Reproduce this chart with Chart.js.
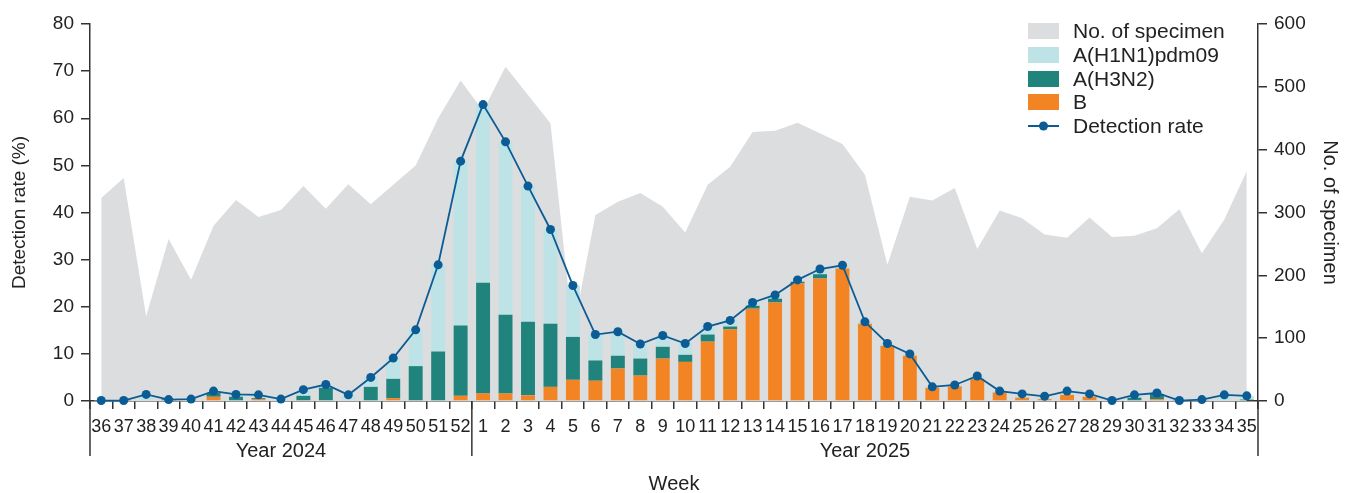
<!DOCTYPE html>
<html>
<head>
<meta charset="utf-8">
<title>Influenza detection rate</title>
<script src="https://cdn.jsdelivr.net/npm/chart.js@4.4.1/dist/chart.umd.min.js"></script>
<style>
  html, body { margin: 0; padding: 0; background: #fff; }
  #wrap { width: 1346px; height: 493px; position: relative; }
</style>
</head>
<body>
<div id="wrap"><canvas id="myChart"></canvas></div>
<script>
// weeks 36-52 of 2024, then 1-35 of 2025
var weeks = ['36','37','38','39','40','41','42','43','44','45','46','47','48','49','50','51','52',
  '1','2','3','4','5','6','7','8','9','10','11','12','13','14','15','16','17','18','19','20',
  '21','22','23','24','25','26','27','28','29','30','31','32','33','34','35'];

var specimens = [323,355,135,258,193,279,320,293,304,342,306,345,313,344,375,450,510,
  462,532,487,442,110,296,317,331,309,268,344,373,428,430,443,426,409,360,217,325,
  319,339,242,303,291,265,260,292,261,263,275,305,235,289,366];

var h1n1 = [0.1,0.1,0.8,0,0.3,0.3,0.4,0.6,0.3,1.2,0.6,1.1,2.0,4.4,7.7,18.4,34.9,
  37.8,36.7,28.8,20.0,10.9,5.5,5.1,3.1,2.4,2.4,1.7,1.3,0.7,0.8,0.4,1.1,0.7,0.4,0.5,0.4,
  0.2,0.3,0.6,0.3,0.6,0.4,0.6,0.5,0,0.5,0.2,0,0.1,1.2,0.7];

var h3n2 = [0.1,0.1,0,0.4,0,0.8,0.9,0.2,0,1.1,2.8,0,3.0,4.1,7.4,10.5,14.9,
  23.5,16.7,15.6,13.4,9.1,4.3,2.7,3.6,2.5,1.5,1.5,0.6,0.6,0.8,0.3,0.9,0,0,0,0,
  0,0,0,0,0,0,0,0,0,0.7,1.1,0.1,0.2,0,0.3];

var fluB = [0,0,0,0,0,0.9,0,0.4,0,0,0,0,0,0.6,0,0,1.1,
  1.6,1.6,1.2,3.0,4.5,4.3,6.9,5.4,9.0,8.3,12.6,15.2,19.6,20.9,25.0,26.0,28.1,16.4,11.7,9.6,
  2.8,3.1,4.7,1.8,0.7,0.4,1.3,0.9,0.2,0,0.4,0,0,0,0];

var detectionRate = [0.1,0.1,1.4,0.3,0.4,2.1,1.4,1.3,0.4,2.4,3.5,1.3,5.0,9.1,15.1,28.9,50.9,
  62.9,55.0,45.6,36.4,24.5,14.1,14.7,12.1,13.9,12.2,15.8,17.1,20.9,22.5,25.7,28.0,28.8,16.8,12.2,10.0,
  3.0,3.4,5.3,2.1,1.5,1.0,2.1,1.5,0.1,1.3,1.7,0.1,0.3,1.3,1.1];

var years = [{label: 'Year 2024', from: 0, to: 16}, {label: 'Year 2025', from: 17, to: 51}];

var GREY = '#dcdddf', LIGHT = '#bde3e6', TEAL = '#20837c', ORANGE = '#f38423', BLUE = '#0b5c94';
var AXIS = '#333333';
var FONT = "'Liberation Sans', Arial, sans-serif";

Chart.defaults.font.family = FONT;
Chart.defaults.color = '#222';

// legend and year labels drawn on top
var extras = {
  id: 'extras',
  afterDraw: function(chart) {
    var ctx = chart.ctx, x = chart.scales.x, area = chart.chartArea;
    ctx.save();
    // separators under the week labels
    ctx.strokeStyle = AXIS;
    ctx.lineWidth = 1.5;
    var bound = (x.getPixelForValue(16) + x.getPixelForValue(17)) / 2;
    [area.left, bound, area.right].forEach(function(px) {
      ctx.beginPath();
      ctx.moveTo(px, area.bottom);
      ctx.lineTo(px, 456);
      ctx.stroke();
    });
    ctx.fillStyle = '#222';
    ctx.font = '20px ' + FONT;
    ctx.textAlign = 'center';
    ctx.textBaseline = 'middle';
    var edges = [area.left, bound, area.right];
    years.forEach(function(y, i) {
      ctx.fillText(y.label, (edges[i] + edges[i + 1]) / 2, 451);
    });

    // legend
    var items = [
      {text: 'No. of specimen', color: GREY},
      {text: 'A(H1N1)pdm09', color: LIGHT},
      {text: 'A(H3N2)', color: TEAL},
      {text: 'B', color: ORANGE},
      {text: 'Detection rate', line: true}
    ];
    var bx = 1028, bw = 31, bh = 16;
    var rowY = [31, 55, 79, 102, 126];
    ctx.textAlign = 'left';
    ctx.font = '21px ' + FONT;
    items.forEach(function(it, i) {
      var cy = rowY[i];
      if (it.line) {
        ctx.strokeStyle = BLUE;
        ctx.lineWidth = 2;
        ctx.beginPath();
        ctx.moveTo(bx, cy);
        ctx.lineTo(bx + bw, cy);
        ctx.stroke();
        ctx.fillStyle = BLUE;
        ctx.beginPath();
        ctx.arc(bx + bw / 2, cy, 4.5, 0, Math.PI * 2);
        ctx.fill();
      } else {
        ctx.fillStyle = it.color;
        ctx.fillRect(bx, cy - bh / 2, bw, bh);
      }
      ctx.fillStyle = '#222';
      ctx.fillText(it.text, 1073, cy + 1);
    });
    ctx.restore();
  }
};

var ctx = document.getElementById('myChart').getContext('2d');
var chart = new Chart(ctx, {
  data: {
    labels: weeks,
    datasets: [{
      type: 'line',
      label: 'Detection rate',
      data: detectionRate,
      yAxisID: 'y',
      stack: 'rate',
      borderColor: BLUE,
      backgroundColor: BLUE,
      borderWidth: 1.8,
      pointRadius: 4.5,
      pointBackgroundColor: BLUE,
      pointBorderWidth: 0,
      tension: 0,
      clip: false,
      order: 0
    }, {
      type: 'bar',
      label: 'B',
      data: fluB,
      yAxisID: 'y',
      stack: 'flu',
      backgroundColor: ORANGE,
      order: 1
    }, {
      type: 'bar',
      label: 'A(H3N2)',
      data: h3n2,
      yAxisID: 'y',
      stack: 'flu',
      backgroundColor: TEAL,
      order: 1
    }, {
      type: 'bar',
      label: 'A(H1N1)pdm09',
      data: h1n1,
      yAxisID: 'y',
      stack: 'flu',
      backgroundColor: LIGHT,
      order: 1
    }, {
      type: 'line',
      label: 'No. of specimen',
      data: specimens,
      yAxisID: 'y1',
      fill: 'origin',
      backgroundColor: GREY,
      borderColor: 'rgba(0,0,0,0)',
      borderWidth: 0,
      pointRadius: 0,
      tension: 0,
      order: 3
    }]
  },
  options: {
    responsive: true,
    maintainAspectRatio: false,
    animation: false,
    layout: { padding: { top: 24, left: 0, right: 0, bottom: 0 } },
    datasets: {
      bar: { categoryPercentage: 1, barPercentage: 0.62 }
    },
    plugins: {
      legend: { display: false },
      tooltip: { enabled: false }
    },
    scales: {
      x: {
        stacked: true,
        offset: true,
        grid: { offset: true, drawOnChartArea: false, drawTicks: true, tickLength: 8, color: AXIS, lineWidth: 1.5 },
        border: { color: AXIS, width: 1.5 },
        ticks: { autoSkip: false, maxRotation: 0, minRotation: 0, padding: 7, font: { size: 18 } },
        title: { display: true, text: 'Week', font: { size: 20 }, padding: { top: 0, bottom: -3 } },
        afterFit: function(s) { s.height = 92; }
      },
      y: {
        position: 'left',
        stacked: true,
        min: 0,
        max: 80,
        ticks: { stepSize: 10, padding: 7, font: { size: 19 } },
        grid: { drawOnChartArea: false, drawTicks: true, tickLength: 9, color: AXIS, lineWidth: 1.5 },
        border: { color: AXIS, width: 1.5 },
        title: { display: true, text: 'Detection rate (%)', font: { size: 19 }, padding: { top: 8 } },
        afterFit: function(s) { s.width = 90; }
      },
      y1: {
        position: 'right',
        min: 0,
        max: 600,
        ticks: { stepSize: 100, padding: 7, font: { size: 19 } },
        grid: { drawOnChartArea: false, drawTicks: true, tickLength: 9, color: AXIS, lineWidth: 1.5 },
        border: { color: AXIS, width: 1.5 },
        title: { display: true, text: 'No. of specimen', font: { size: 20 }, padding: { top: 4 } },
        afterFit: function(s) { s.width = 88; }
      }
    }
  },
  plugins: [extras]
});
</script>
</body>
</html>
